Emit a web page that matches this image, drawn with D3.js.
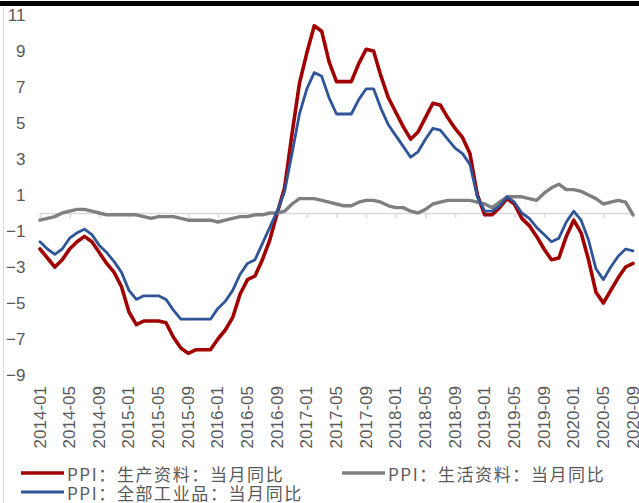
<!DOCTYPE html>
<html>
<head>
<meta charset="utf-8">
<script src="https://cdn.jsdelivr.net/npm/d3@7"></script>
<style>
  html, body { margin: 0; padding: 0; background: #fff; }
  svg { display: block; }
</style>
</head>
<body>
<script>
// Monthly year-on-year PPI, 2014-01 .. 2020-09
const tickLabels = ["2014-01","2014-05","2014-09","2015-01","2015-05","2015-09","2016-01",
  "2016-05","2016-09","2017-01","2017-05","2017-09","2018-01","2018-05","2018-09",
  "2019-01","2019-05","2019-09","2020-01","2020-05","2020-09"];

const yTicks = [11, 9, 7, 5, 3, 1, -1, -3, -5, -7, -9];

// PPI: producer goods
const producerGoods = [
  -2.0, -2.5, -3.0, -2.6, -2.0, -1.6, -1.3, -1.6, -2.2, -2.8, -3.3, -4.1,
  -5.5, -6.2, -6.0, -6.0, -6.0, -6.1, -6.9, -7.5, -7.8, -7.6, -7.6, -7.6,
  -7.0, -6.5, -5.8, -4.5, -3.7, -3.5, -2.6, -1.5, 0.0, 1.4, 4.4, 7.2,
  8.9, 10.4, 10.1, 8.4, 7.3, 7.3, 7.3, 8.3, 9.1, 9.0, 7.6, 6.4,
  5.6, 4.8, 4.1, 4.5, 5.3, 6.1, 6.0, 5.3, 4.7, 4.2, 3.3, 1.0,
  -0.1, -0.1, 0.3, 0.8, 0.5, -0.3, -0.7, -1.3, -2.0, -2.6, -2.5, -1.3,
  -0.4, -1.1, -2.6, -4.4, -5.0, -4.3, -3.6, -3.0, -2.8
];

// PPI: consumer goods
const consumerGoods = [
  -0.4, -0.3, -0.2, 0.0, 0.1, 0.2, 0.2, 0.1, 0.0, -0.1, -0.1, -0.1,
  -0.1, -0.1, -0.2, -0.3, -0.2, -0.2, -0.2, -0.3, -0.4, -0.4, -0.4, -0.4,
  -0.5, -0.4, -0.3, -0.2, -0.2, -0.1, -0.1, 0.0, 0.0, 0.1, 0.5, 0.8,
  0.8, 0.8, 0.7, 0.6, 0.5, 0.4, 0.4, 0.6, 0.7, 0.7, 0.6, 0.4,
  0.3, 0.3, 0.1, 0.0, 0.2, 0.5, 0.6, 0.7, 0.7, 0.7, 0.7, 0.6,
  0.5, 0.3, 0.6, 0.9, 0.9, 0.9, 0.8, 0.7, 1.1, 1.4, 1.6, 1.3,
  1.3, 1.2, 1.0, 0.8, 0.5, 0.6, 0.7, 0.6, -0.1
];

// PPI: all industrial products
const allIndustrial = [
  -1.6, -2.0, -2.3, -2.0, -1.4, -1.1, -0.9, -1.2, -1.8, -2.2, -2.7, -3.3,
  -4.3, -4.8, -4.6, -4.6, -4.6, -4.8, -5.4, -5.9, -5.9, -5.9, -5.9, -5.9,
  -5.3, -4.9, -4.3, -3.4, -2.8, -2.6, -1.7, -0.8, 0.1, 1.2, 3.3, 5.5,
  6.9, 7.8, 7.6, 6.4, 5.5, 5.5, 5.5, 6.3, 6.9, 6.9, 5.8, 4.9,
  4.3, 3.7, 3.1, 3.4, 4.1, 4.7, 4.6, 4.1, 3.6, 3.3, 2.7, 0.9,
  0.1, 0.1, 0.4, 0.9, 0.6, 0.0, -0.3, -0.8, -1.2, -1.6, -1.4, -0.5,
  0.1, -0.4, -1.5, -3.1, -3.7, -3.0, -2.4, -2.0, -2.1
];

const seriesNames = ["PPI：生产资料：当月同比", "PPI：生活资料：当月同比", "PPI：全部工业品：当月同比"];
const seriesColors = ["#a00000", "#7f7f7f", "#2f5597"];
const seriesWidths = [3.6, 3.4, 2.8];

const W = 639, H = 503;
const svg = d3.select("body").append("svg").attr("width", W).attr("height", H);
svg.append("rect").attr("width", W).attr("height", H).attr("fill", "#fff");

// top rule and left frame edge
svg.append("rect").attr("x", 0).attr("y", 1).attr("width", W).attr("height", 5).attr("fill", "#000");
svg.append("line").attr("x1", 3.5).attr("x2", 3.5).attr("y1", 7).attr("y2", H)
  .attr("stroke", "#d9d9d9").attr("stroke-width", 1);

const nMonths = producerGoods.length;
const x = d3.scaleLinear().domain([0, nMonths - 1]).range([40, 633]);
const y = d3.scaleLinear().domain([-9, 11]).range([375, 15]);

// value axis labels
const yAxis = svg.append("g").attr("transform", "translate(25.5,0)")
  .call(d3.axisLeft(y).tickValues(yTicks).tickSize(0).tickPadding(0));
yAxis.select(".domain").remove();
yAxis.selectAll("text")
  .attr("fill", "#595959")
  .style("font-family", "'Liberation Sans', Arial, sans-serif")
  .style("font-size", "17px");

// category axis on the zero line, a tick every four months
const tickIdx = tickLabels.map((d, i) => i * 4);
const xAxis = svg.append("g").attr("transform", `translate(0,${y(0)})`)
  .call(d3.axisBottom(x).tickValues(tickIdx).tickSize(5).tickFormat(""));
xAxis.select(".domain").attr("stroke", "#d9d9d9").attr("stroke-width", 1.5);
xAxis.selectAll(".tick line").attr("stroke", "#d9d9d9").attr("stroke-width", 1.5);

// rotated month labels along the bottom
svg.append("g").selectAll("text").data(tickLabels).join("text")
  .attr("transform", (d, i) => `translate(${x(tickIdx[i])},386) rotate(-90)`)
  .attr("text-anchor", "end")
  .attr("dominant-baseline", "central")
  .attr("fill", "#595959")
  .style("font-family", "'Liberation Sans', Arial, sans-serif")
  .style("font-size", "17px")
  .text(d => d);

// series lines
const series = [producerGoods, consumerGoods, allIndustrial];
const line = d3.line().x((d, i) => x(i)).y(d => y(d));
svg.append("g").selectAll("path").data(series).join("path")
  .attr("d", line)
  .attr("fill", "none")
  .attr("stroke", (d, i) => seriesColors[i])
  .attr("stroke-width", (d, i) => seriesWidths[i])
  .attr("stroke-linejoin", "round")
  .attr("stroke-linecap", "round");

// legend
const legendPos = [[21, 473], [342, 473], [21, 492]];
const legend = svg.append("g").selectAll("g").data(seriesNames).join("g")
  .attr("transform", (d, i) => `translate(${legendPos[i][0]},${legendPos[i][1]})`);
legend.append("line")
  .attr("x1", 0).attr("x2", 43).attr("y1", 0).attr("y2", 0)
  .attr("stroke", (d, i) => seriesColors[i])
  .attr("stroke-width", (d, i) => i === 2 ? 3 : 3.4);
legend.append("text")
  .attr("x", 46)
  .attr("y", 0)
  .attr("dominant-baseline", "central")
  .attr("fill", "#595959")
  .style("font-family", "'Noto Sans CJK SC', sans-serif")
  .style("font-size", "17px")
  .style("letter-spacing", "1.6px")
  .text(d => d);
</script>
</body>
</html>
